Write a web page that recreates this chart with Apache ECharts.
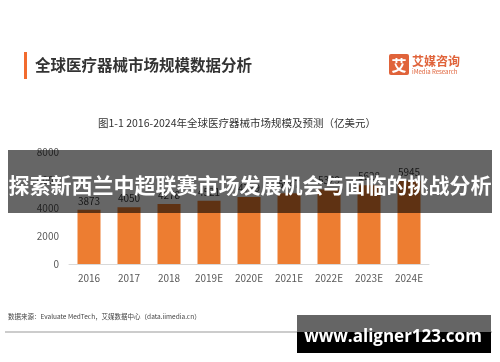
<!DOCTYPE html>
<html>
<head>
<meta charset="utf-8">
<script src="https://cdn.jsdelivr.net/npm/echarts@6/dist/echarts.min.js"></script>
<style>html,body{margin:0;padding:0;background:#fff}#c{width:500px;height:362px}</style>
</head>
<body>
<div id="c"></div>
<script>
const categories = ['2016','2017','2018','2019E','2020E','2021E','2022E','2023E','2024E'];
const values = [3873, 4050, 4278, 4521, 4779, 5047, 5329, 5628, 5945];
const yTicks = [0, 2000, 4000, 6000, 8000];
const titleText = '全球医疗器械市场规模数据分析';
const subtitleText = '图1-1 2016-2024年全球医疗器械市场规模及预测（亿美元）';
const bannerText = '探索新西兰中超联赛市场发展机会与面临的挑战分析';
const sourceText = '数据来源：Evaluate MedTech，艾媒数据中心（data.iimedia.cn）';
const watermarkText = 'www.aligner123.com';

const FONT = '"Noto Sans CJK SC", "Noto Sans", sans-serif';
const chart = echarts.init(document.getElementById('c'), null, {renderer: 'canvas'});
chart.setOption({
  backgroundColor: '#ffffff',
  animation: false,
  textStyle: {fontFamily: FONT},
  grid: {left: 69, top: 152, width: 360, height: 112, containLabel: false},
  xAxis: {
    type: 'category',
    data: categories,
    axisLine: {lineStyle: {color: '#d9d9d9', width: 1}},
    axisTick: {show: false},
    axisLabel: {color: '#595959', fontSize: 10, margin: 9, fontFamily: FONT}
  },
  yAxis: {
    type: 'value',
    min: yTicks[0],
    max: yTicks[yTicks.length - 1],
    interval: 2000,
    axisLine: {show: false},
    axisTick: {show: false},
    splitLine: {show: false},
    axisLabel: {color: '#595959', fontSize: 10, margin: 10, fontFamily: FONT, formatter: v => String(v)}
  },
  series: [{
    type: 'bar',
    data: values,
    barWidth: 23,
    itemStyle: {color: '#ED7D31'},
    label: {show: true, position: 'top', distance: 4, color: '#404040', fontSize: 10, fontFamily: FONT, formatter: p => String(p.value)}
  }],
  graphic: [
    {type: 'rect', z: 50, shape: {x: 24, y: 52, width: 3, height: 27}, style: {fill: '#F26B2E'}},
    {type: 'text', z: 50, x: 35, y: 65, style: {text: titleText, font: 'bold 15.5px ' + FONT, fill: '#333333', textVerticalAlign: 'middle'}},
    {type: 'rect', z: 50, shape: {x: 389, y: 54, width: 20, height: 21, r: 2}, style: {fill: '#E0633A'}},
    {type: 'text', z: 51, x: 399, y: 65, style: {text: '艾', font: 'bold 15px ' + FONT, fill: '#ffffff', textAlign: 'center', textVerticalAlign: 'middle'}},
    {type: 'text', z: 50, x: 412, y: 61, style: {text: '艾媒咨询', font: 'bold 12px ' + FONT, fill: '#E0633A', textVerticalAlign: 'middle'}},
    {type: 'text', z: 50, x: 412, y: 72, style: {text: 'iMedia Research', font: '6px ' + FONT, fill: '#E0633A', textVerticalAlign: 'middle'}},
    {type: 'text', z: 50, x: 237, y: 123, style: {text: subtitleText, font: '10.5px ' + FONT, fill: '#333333', textAlign: 'center', textVerticalAlign: 'middle'}},
    {type: 'rect', z: 100, shape: {x: 8, y: 150, width: 484, height: 63}, style: {fill: 'rgba(0,0,0,0.6)'}},
    {type: 'text', z: 101, x: 250, y: 185, style: {text: bannerText, font: 'bold 21px ' + FONT, fill: '#ffffff', textAlign: 'center', textVerticalAlign: 'middle'}},
    {type: 'text', z: 50, x: 8, y: 317, style: {text: sourceText, font: '6.5px ' + FONT, fill: '#444444', textVerticalAlign: 'middle'}},
    {type: 'rect', z: 50, shape: {x: 5, y: 331.5, width: 487, height: 1}, style: {fill: '#999999'}},
    {type: 'rect', z: 100, shape: {x: 297, y: 315, width: 194, height: 17}, style: {fill: '#656565'}},
    {type: 'rect', z: 100, shape: {x: 297, y: 332, width: 194, height: 21}, style: {fill: '#000000'}},
    {type: 'text', z: 101, x: 393, y: 337, style: {text: watermarkText, font: 'bold 17px "Open Sans", sans-serif', fill: '#ffffff', textAlign: 'center', textVerticalAlign: 'middle'}}
  ]
});
</script>
</body>
</html>
